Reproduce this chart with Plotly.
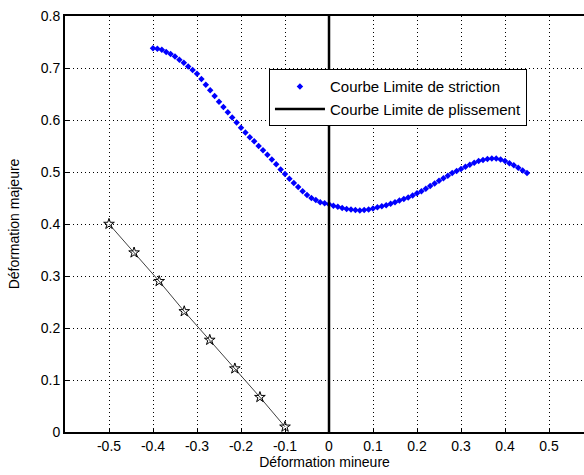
import plotly.graph_objects as go

# Courbe limite de striction (forming limit curve)
striction_x = [round(-0.40 + 0.01 * i, 2) for i in range(86)]
striction_y = [
    0.738, 0.737, 0.735, 0.731, 0.727, 0.722, 0.716, 0.710, 0.703, 0.696,
    0.689, 0.679, 0.668, 0.657, 0.646, 0.635, 0.625, 0.615, 0.605, 0.595,
    0.585, 0.576, 0.567, 0.559, 0.550, 0.542, 0.533, 0.524, 0.515, 0.505,
    0.496, 0.487, 0.479, 0.471, 0.463, 0.456, 0.450, 0.446, 0.442, 0.440,
    0.438, 0.435, 0.433, 0.431, 0.429, 0.428, 0.427, 0.426, 0.427, 0.428,
    0.430, 0.432, 0.434, 0.436, 0.439, 0.442, 0.445, 0.448, 0.451, 0.455,
    0.459, 0.463, 0.468, 0.473, 0.478, 0.483, 0.488, 0.493, 0.498, 0.502,
    0.506, 0.510, 0.514, 0.518, 0.521, 0.523, 0.525, 0.526, 0.526, 0.524,
    0.521, 0.517, 0.513, 0.508, 0.503, 0.498,
]

# Courbe limite de plissement (wrinkling limit)
plissement_x = [0.0, 0.0]
plissement_y = [0.0, 0.8]

# Star-marked straight line
star_x = [-0.5, -0.443, -0.386, -0.329, -0.271, -0.214, -0.157, -0.1]
star_y = [0.4, 0.345, 0.29, 0.232, 0.177, 0.122, 0.067, 0.01]

x_ticks = [-0.5, -0.4, -0.3, -0.2, -0.1, 0, 0.1, 0.2, 0.3, 0.4, 0.5]
x_labels = ["-0.5", "-0.4", "-0.3", "-0.2", "-0.1", "0", "0.1", "0.2", "0.3", "0.4", "0.5"]
y_ticks = [0, 0.1, 0.2, 0.3, 0.4, 0.5, 0.6, 0.7, 0.8]
y_labels = ["0", "0.1", "0.2", "0.3", "0.4", "0.5", "0.6", "0.7", "0.8"]

FONT = "Liberation Sans, Arial, sans-serif"

fig = go.Figure()

fig.add_trace(go.Scatter(
    x=star_x, y=star_y, mode="lines+markers", showlegend=False,
    line=dict(color="#404040", width=1),
    marker=dict(symbol="star-open", size=8, color="black", line=dict(width=1)),
))

fig.add_trace(go.Scatter(
    x=striction_x, y=striction_y, mode="markers",
    name="Courbe Limite de striction",
    marker=dict(symbol="diamond", size=5, color="#0000FF"),
))

fig.add_trace(go.Scatter(
    x=plissement_x, y=plissement_y, mode="lines",
    name="Courbe Limite de plissement",
    line=dict(color="black", width=2.5),
))

fig.update_layout(
    width=584, height=475,
    margin=dict(l=65, r=0, t=16, b=43),
    paper_bgcolor="white", plot_bgcolor="white",
    font=dict(family=FONT, size=14, color="black"),
    legend=dict(
        x=0.393, y=0.872, xanchor="left", yanchor="top",
        bgcolor="white", bordercolor="black", borderwidth=1,
        font=dict(family=FONT, size=15), itemwidth=50,
        tracegroupgap=0,
    ),
)

fig.update_xaxes(
    range=[-0.6, 0.5795], tickvals=x_ticks, ticktext=x_labels,
    showgrid=True, gridcolor="black", griddash="1px,3px", gridwidth=1,
    zeroline=False, showline=True, linecolor="black", linewidth=2, mirror=True,
    ticks="inside", ticklen=4, tickcolor="black",
    title=dict(text="Déformation mineure", font=dict(size=14), standoff=4),
)
fig.update_yaxes(
    range=[0, 0.8], tickvals=y_ticks, ticktext=y_labels,
    showgrid=True, gridcolor="black", griddash="1px,3px", gridwidth=1,
    zeroline=False, showline=True, linecolor="black", linewidth=2,
    ticks="inside", ticklen=4, tickcolor="black",
    title=dict(text="Déformation majeure", font=dict(size=14), standoff=18),
)

fig.write_html("out.html")
